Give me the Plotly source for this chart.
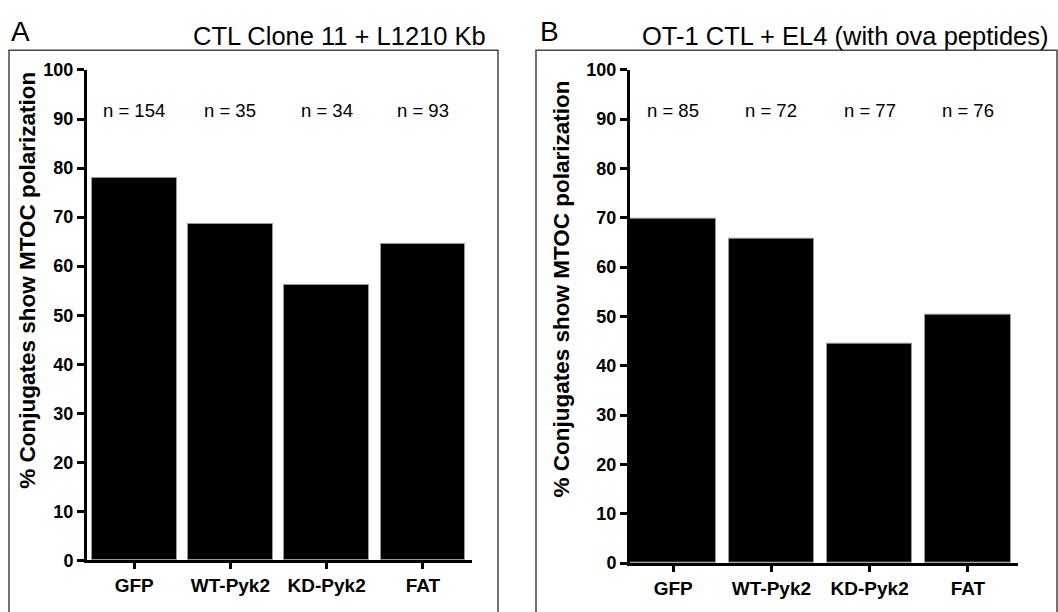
import plotly.graph_objects as go

# Conjugate groups and measured MTOC polarization (%)
categories = ["GFP", "WT-Pyk2", "KD-Pyk2", "FAT"]
clone11_pct = [78.0, 68.6, 56.2, 64.6]
ot1_pct = [69.8, 65.7, 44.4, 50.3]
clone11_n = [154, 35, 34, 93]
ot1_n = [85, 72, 77, 76]
y_ticks = list(range(0, 101, 10))

W, H = 1058, 612
FONT = "Liberation Sans, Arial, Helvetica, sans-serif"


def px_x(p):
    return p / W


def px_y(p):
    return 1 - p / H


fig = go.Figure()

fig.add_trace(go.Bar(
    x=categories, y=clone11_pct, width=0.88,
    marker=dict(color="black", line=dict(color="#9a9a9a", width=1)),
    xaxis="x", yaxis="y", showlegend=False, hoverinfo="x+y",
))
fig.add_trace(go.Bar(
    x=categories, y=ot1_pct, width=0.87,
    marker=dict(color="black", line=dict(color="#9a9a9a", width=1)),
    xaxis="x2", yaxis="y2", showlegend=False, hoverinfo="x+y",
))

# sample-size labels above each bar
for cat, n in zip(categories, clone11_n):
    fig.add_annotation(x=cat, y=91.8, xref="x", yref="y", text=f"n = {n}",
                       showarrow=False, font=dict(size=18.5, color="black", family=FONT))
for cat, n in zip(categories, ot1_n):
    fig.add_annotation(x=cat, y=91.8, xref="x2", yref="y2", text=f"n = {n}",
                       showarrow=False, font=dict(size=18.5, color="black", family=FONT))

xaxis_style = dict(
    type="category", showline=True, linecolor="black", linewidth=3,
    ticks="outside", ticklen=6, tickwidth=2.5, tickcolor="black",
    showgrid=False, zeroline=False,
    tickfont=dict(size=19, color="black", family=FONT, weight="bold"),
    fixedrange=True,
)
yaxis_style = dict(
    range=[0, 100], tickvals=y_ticks, ticktext=[str(v) for v in y_ticks],
    showline=True, linecolor="black", linewidth=3,
    ticks="outside", ticklen=7, tickwidth=2.5, tickcolor="black",
    showgrid=False, zeroline=False,
    tickfont=dict(size=18, color="black", family=FONT, weight="bold"),
    fixedrange=True,
)

fig.update_layout(
    width=W, height=H,
    margin=dict(l=0, r=0, t=0, b=0),
    paper_bgcolor="white", plot_bgcolor="white",
    bargap=0,
    xaxis=dict(xaxis_style, domain=[px_x(87), px_x(472)], range=[-0.49, 3.51], anchor="y"),
    yaxis=dict(yaxis_style, domain=[px_y(569), px_y(62)], anchor="x"),
    xaxis2=dict(xaxis_style, domain=[px_x(630), px_x(1018)], range=[-0.44, 3.51], anchor="y2"),
    yaxis2=dict(yaxis_style, domain=[px_y(571.7), px_y(61.7)], anchor="x2"),
)

# panel frames
for x0, x1 in [(9, 498), (536, 1057)]:
    fig.add_shape(type="rect", xref="paper", yref="paper",
                  x0=px_x(x0), x1=px_x(x1), y0=-0.02, y1=px_y(41.5),
                  line=dict(color="#444444", width=1.5), fillcolor="rgba(0,0,0,0)")

# panel letters and titles
fig.add_annotation(x=px_x(9), y=px_y(22), xref="paper", yref="paper", text="A",
                   xanchor="left", yanchor="middle", showarrow=False,
                   font=dict(size=28, color="black", family=FONT))
fig.add_annotation(x=px_x(538), y=px_y(22), xref="paper", yref="paper", text="B",
                   xanchor="left", yanchor="middle", showarrow=False,
                   font=dict(size=28, color="black", family=FONT))
fig.add_annotation(x=px_x(488), y=px_y(27), xref="paper", yref="paper",
                   text="CTL Clone 11 + L1210 Kb",
                   xanchor="right", yanchor="middle", showarrow=False,
                   font=dict(size=25.5, color="black", family=FONT))
fig.add_annotation(x=px_x(1051), y=px_y(27), xref="paper", yref="paper",
                   text="OT-1 CTL + EL4 (with ova peptides)",
                   xanchor="right", yanchor="middle", showarrow=False,
                   font=dict(size=25.5, color="black", family=FONT))

# y-axis titles
ytitle = "% Conjugates show MTOC polarization"
fig.add_annotation(x=px_x(28), y=px_y(280), xref="paper", yref="paper", text=ytitle,
                   textangle=-90, xanchor="center", yanchor="middle", showarrow=False,
                   font=dict(size=22.5, color="black", family=FONT, weight="bold"))
fig.add_annotation(x=px_x(562), y=px_y(289), xref="paper", yref="paper", text=ytitle,
                   textangle=-90, xanchor="center", yanchor="middle", showarrow=False,
                   font=dict(size=22.5, color="black", family=FONT, weight="bold"))

fig.write_html("out.html")
